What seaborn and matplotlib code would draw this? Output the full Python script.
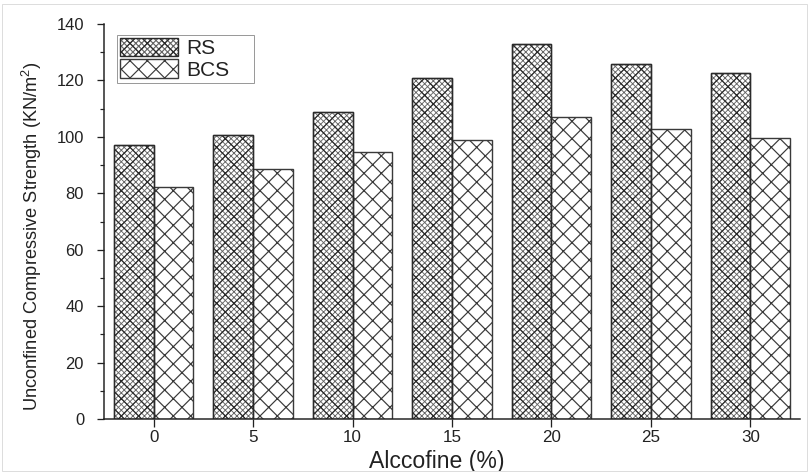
import numpy as np
import pandas as pd
import matplotlib
matplotlib.use("Agg")
import matplotlib.pyplot as plt
import seaborn as sns
from matplotlib.patches import Patch, Rectangle
from matplotlib.ticker import MultipleLocator

# ---- data ----
alccofine = ["0", "5", "10", "15", "20", "25", "30"]
rs_values = [97.1, 100.7, 108.9, 121.0, 132.9, 125.7, 122.6]
bcs_values = [82.3, 88.6, 94.5, 98.9, 107.2, 102.7, 99.7]
series_names = ["RS", "BCS"]

df = pd.DataFrame({
    "Alccofine": alccofine * 2,
    "UCS": rs_values + bcs_values,
    "Type": [series_names[0]] * len(alccofine) + [series_names[1]] * len(alccofine),
})

sns.set_style("white")
plt.rcParams["font.family"] = ["Liberation Sans", "DejaVu Sans"]
plt.rcParams["mathtext.fontset"] = "custom"
plt.rcParams["mathtext.rm"] = "Liberation Sans"
plt.rcParams["mathtext.it"] = "Liberation Sans"
plt.rcParams["hatch.linewidth"] = 0.8

DPI = 104


def pt(px):
    return px * 72.0 / DPI


fig = plt.figure(figsize=(809 / DPI, 472 / DPI), dpi=DPI)
ax = fig.add_axes([104 / 809, 1 - 419 / 472, (800 - 104) / 809, (419 - 24) / 472])

sns.barplot(data=df, x="Alccofine", y="UCS", hue="Type", hue_order=series_names,
            order=alccofine, palette=["white", "white"], edgecolor="#3a3a3a",
            linewidth=pt(1.4), width=0.8, ax=ax, legend=False, saturation=1)

FINE_C, COARSE_C, EDGE_C = "#666666", "#2a2a2a", "#3a3a3a"

rs_bars, bcs_bars = ax.containers[0], ax.containers[1]
for b in rs_bars:
    b.set_hatch("xxxxxx")
    b.set_edgecolor(FINE_C)
    if hasattr(b, "set_hatch_linewidth"):
        b.set_hatch_linewidth(pt(0.9))
    ov = Rectangle(b.get_xy(), b.get_width(), b.get_height(), fill=False,
                   hatch="xx", edgecolor=COARSE_C, linewidth=pt(1.4),
                   zorder=b.get_zorder() + 0.1)
    if hasattr(ov, "set_hatch_linewidth"):
        ov.set_hatch_linewidth(pt(1.2))
    ax.add_patch(ov)
for b in bcs_bars:
    b.set_hatch("xx")
    b.set_edgecolor(EDGE_C)
    if hasattr(b, "set_hatch_linewidth"):
        b.set_hatch_linewidth(pt(1.2))

ax.set_xlim(-0.5, 6.5)
ax.set_ylim(0, 140)
ax.yaxis.set_major_locator(MultipleLocator(20))
ax.yaxis.set_minor_locator(MultipleLocator(10))

for s in ["top", "right"]:
    ax.spines[s].set_visible(False)
for s in ["left", "bottom"]:
    ax.spines[s].set_color("#222222")
    ax.spines[s].set_linewidth(pt(1.5))

ax.tick_params(axis="y", which="major", direction="out", length=pt(7), width=pt(1.3),
               color="#222222", labelsize=pt(16.5), pad=pt(13), left=True,
               labelcolor="#222222")
ax.tick_params(axis="y", which="minor", direction="out", length=pt(4), width=pt(1.2),
               color="#222222", left=True)
ax.tick_params(axis="x", which="major", direction="out", length=pt(8), width=pt(1.3),
               color="#222222", labelsize=pt(17), pad=pt(3), bottom=True,
               labelcolor="#222222")

ax.set_xlabel("Alccofine (%)", fontsize=pt(23), color="#222222")
ax.set_ylabel("Unconfined Compressive Strength (KN/m$^2$)", fontsize=pt(18.3),
              color="#222222")
ax.xaxis.set_label_coords((437 - 104) / 696, (419 - 450) / 395)
ax.yaxis.set_label_coords((44 - 104) / 696, (419 - 236) / 395)

# legend
rs_handle = (Patch(facecolor="white", edgecolor=FINE_C, hatch="xxxxxx", linewidth=0),
             Patch(facecolor="none", edgecolor=COARSE_C, hatch="xx", linewidth=pt(1.4)))
bcs_handle = Patch(facecolor="white", edgecolor=EDGE_C, hatch="xx", linewidth=pt(1.4))
fs_leg = 21
lx0, lx1, ly0, ly1 = 117, 254, 35, 82
leg = ax.legend([rs_handle, bcs_handle], series_names, loc="upper left",
                bbox_to_anchor=((lx0 - 104) / 696, (419 - ly1) / 395,
                                (lx1 - lx0) / 696, (ly1 - ly0) / 395),
                mode="expand", borderaxespad=0, fontsize=pt(fs_leg),
                handlelength=58 / fs_leg, handleheight=20 / fs_leg,
                labelspacing=0.05, handletextpad=8 / fs_leg, borderpad=0.15,
                fancybox=False, framealpha=1)
leg.get_frame().set_edgecolor("#9a9a9a")
leg.get_frame().set_linewidth(pt(1.0))
for t in leg.get_texts():
    t.set_color("#222222")

# thin light border around the figure
fig.patches.append(Rectangle((0.002, 0.002), 0.996, 0.99, transform=fig.transFigure,
                             fill=False, edgecolor="#dddddd", linewidth=pt(1.0)))

fig.savefig("out.png", dpi=DPI)
